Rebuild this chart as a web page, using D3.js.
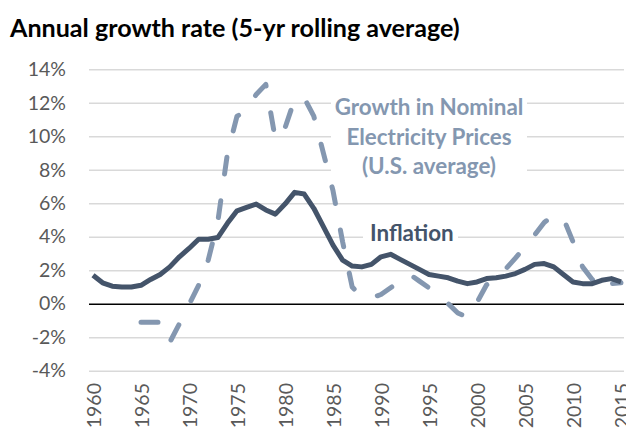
<!DOCTYPE html>
<html>
<head>
<meta charset="utf-8">
<script src="https://cdn.jsdelivr.net/npm/d3@7"></script>
<style>
  body { margin: 0; background: #fff; }
  svg { display: block; }
  .tick text { font-family: Lato, "Liberation Sans", sans-serif; fill: #595959; }
</style>
</head>
<body>
<div id="chart"></div>
<script>
// data
var years = d3.range(1960, 2016);

var inflation = [1.7, 1.25, 1.05, 1.0, 1.0, 1.1, 1.45, 1.75, 2.2, 2.8,
  3.3, 3.85, 3.85, 3.95, 4.8, 5.55, 5.75, 5.95, 5.6, 5.35,
  5.95, 6.65, 6.55, 5.7, 4.6, 3.5, 2.6, 2.25, 2.2, 2.35,
  2.8, 2.95, 2.65, 2.35, 2.05, 1.75, 1.65, 1.55, 1.35, 1.2,
  1.3, 1.5, 1.55, 1.65, 1.8, 2.05, 2.35, 2.4, 2.2, 1.75,
  1.3, 1.2, 1.2, 1.4, 1.5, 1.3];

var electricity = [null, null, null, null, null, -1.1, -1.1, -1.1, -2.3, -1.2,
  -0.05, 1.1, 2.6, 4.9, 8.95, 11.2, 11.5, 12.5, 13.1, 9.8,
  10.5, 12.2, 12.3, 11.2, 9.0, 6.75, 3.7, 1.0, 0.4, 0.35,
  0.55, 0.95, 1.35, 1.75, 1.35, 0.95, 0.5, 0.0, -0.55, -0.8,
  0.08, 1.13, 1.45, 2.08, 2.72, 3.4, 4.1, 4.85, 5.3, 5.1,
  3.7, 2.2, 1.45, 0.8, 1.2, 1.25];

var yTicks = [-4, -2, 0, 2, 4, 6, 8, 10, 12, 14];
var xTicks = [1960, 1965, 1970, 1975, 1980, 1985, 1990, 1995, 2000, 2005, 2010, 2015];

var svgWidth = 626;
var svgHeight = 433;

var svg = d3.select("#chart")
  .append("svg")
  .attr("width", svgWidth)
  .attr("height", svgHeight);

var x = d3.scaleLinear().domain([1960, 2015]).range([93, 621]);
var y = d3.scaleLinear().domain([-4, 14]).range([370.7, 69.3]);

var gridLeft = 89, gridRight = 624;

// gridlines + y labels
var yAxis = svg.append("g")
  .attr("transform", `translate(${gridLeft},0)`)
  .call(d3.axisLeft(y)
    .tickValues(yTicks)
    .tickSize(-(gridRight - gridLeft))
    .tickPadding(23)
    .tickFormat(d => d + "%"));
yAxis.select(".domain").remove();
yAxis.selectAll(".tick line")
  .attr("stroke", d => d === 0 ? "#000" : "#d9d9d9")
  .attr("stroke-width", 1.4);
yAxis.selectAll(".tick text")
  .style("font-size", "19.5px");

// x labels, rotated
var xAxis = svg.append("g")
  .attr("transform", "translate(0,383)")
  .call(d3.axisBottom(x).tickValues(xTicks).tickSize(0).tickFormat(d3.format("d")));
xAxis.select(".domain").remove();
xAxis.selectAll(".tick text")
  .style("font-size", "19.5px")
  .attr("text-anchor", "end")
  .attr("transform", "rotate(-90)")
  .attr("x", 0)
  .attr("y", 0)
  .attr("dy", "0.36em");

// label boxes knock out the gridlines
svg.append("rect").attr("x", 331).attr("y", 88).attr("width", 196).attr("height", 94).attr("fill", "#fff");
svg.append("rect").attr("x", 363).attr("y", 222).attr("width", 95).attr("height", 26).attr("fill", "#fff");

var line = d3.line()
  .defined(d => d[1] !== null)
  .x(d => x(d[0]))
  .y(d => y(d[1]));

svg.append("path")
  .datum(years.map((yr, i) => [yr, electricity[i]]))
  .attr("d", line)
  .attr("fill", "none")
  .attr("stroke", "#8497b0")
  .attr("stroke-width", 5)
  .attr("stroke-linecap", "round")
  .attr("stroke-linejoin", "round")
  .attr("stroke-dasharray", "17 27");

svg.append("path")
  .datum(years.map((yr, i) => [yr, inflation[i]]))
  .attr("d", line)
  .attr("fill", "none")
  .attr("stroke", "#44546a")
  .attr("stroke-width", 5)
  .attr("stroke-linejoin", "round");

// title
svg.append("text")
  .attr("x", 10)
  .attr("y", 37)
  .style("font-family", "Lato, sans-serif")
  .style("font-weight", "bold")
  .style("font-size", "25.1px")
  .attr("fill", "#000")
  .text("Annual growth rate (5-yr rolling average)");

// annotations
var elecLabel = ["Growth in Nominal", "Electricity Prices", "(U.S. average)"];
svg.append("text")
  .attr("text-anchor", "middle")
  .style("font-family", "Lato, sans-serif")
  .style("font-weight", "bold")
  .style("font-size", "22.4px")
  .attr("fill", "#8497b0")
  .selectAll("tspan")
  .data(elecLabel)
  .enter()
  .append("tspan")
  .attr("x", 429)
  .attr("y", (d, i) => 115 + i * 29.7)
  .text(d => d);

svg.append("text")
  .attr("x", 370)
  .attr("y", 241)
  .style("font-family", "Lato, sans-serif")
  .style("font-weight", "bold")
  .style("font-size", "22.4px")
  .attr("fill", "#44546a")
  .text("Inflation");
</script>
</body>
</html>
